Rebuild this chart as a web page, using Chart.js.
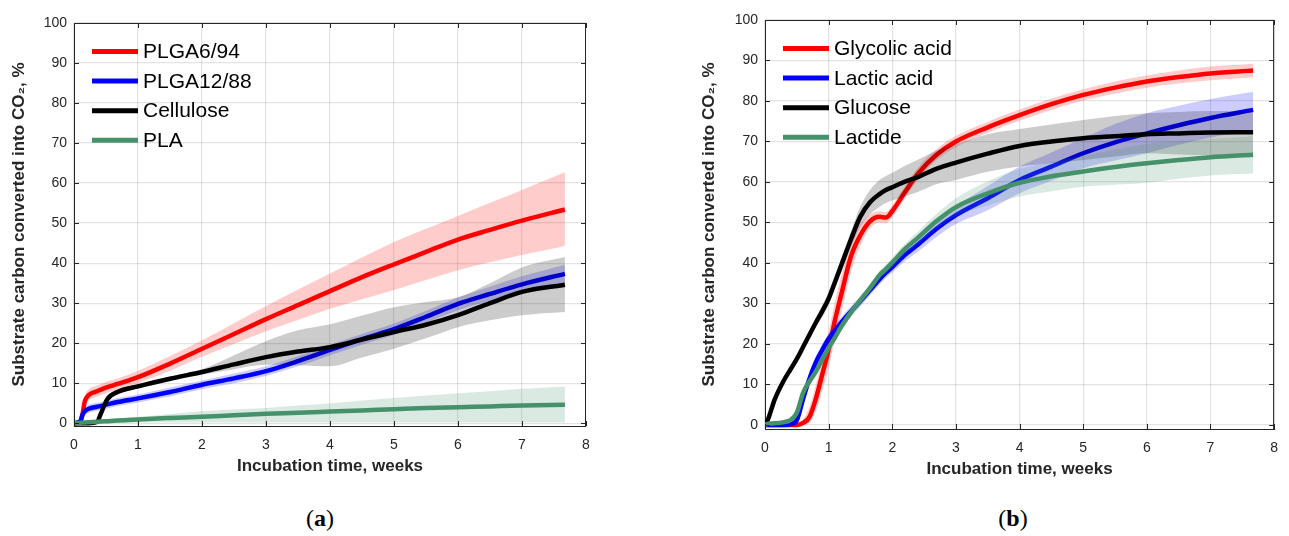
<!DOCTYPE html>
<html>
<head>
<meta charset="utf-8">
<script src="https://cdn.jsdelivr.net/npm/chart.js@4.4.1/dist/chart.umd.min.js"></script>
<style>
  body { margin: 0; background: #fff; width: 1289px; height: 536px; position: relative; overflow: hidden; }
  .wrap { position: absolute; top: 0; }
  #wrapA { left: 0; width: 640px; height: 490px; }
  #wrapB { left: 690px; width: 599px; height: 493px; }
  .cap { position: absolute; top: 505px; font-family: "Liberation Serif", "Times New Roman", serif; font-size: 24px; color: #000; transform: translateX(-50%); }
</style>
</head>
<body>
<div class="wrap" id="wrapA"><canvas id="chartA"></canvas></div>
<div class="wrap" id="wrapB"><canvas id="chartB"></canvas></div>
<div class="cap" style="left:320px">(<b>a</b>)</div>
<div class="cap" style="left:1013px">(<b>b</b>)</div>

<script>
// tick labels
const xTicks = [0, 1, 2, 3, 4, 5, 6, 7, 8];
const yTicks = [0, 10, 20, 30, 40, 50, 60, 70, 80, 90, 100];

// (a) polymers, weeks
const weeksA = [0, 0.1, 0.13, 0.17, 0.23, 0.36, 0.42, 0.52, 0.68, 1.0, 1.5, 2.0, 2.5, 3.0, 3.5, 4.0, 4.5, 5.0, 5.5, 6.0, 6.5, 7.0, 7.67];
const plga694Mean = [0, 0.3, 2.0, 5.5, 7.0, 8.0, 8.4, 9.0, 9.8, 11.5, 14.9, 18.6, 22.3, 26.0, 29.5, 33.0, 36.5, 39.7, 42.8, 45.9, 48.3, 50.6, 53.4];
const plga694Hi   = [0.5, 1.0, 3.2, 6.8, 8.4, 9.4, 9.8, 10.4, 11.2, 13.1, 16.8, 20.7, 25.0, 29.3, 33.4, 37.4, 41.4, 45.3, 48.6, 51.8, 55.1, 58.3, 62.7];
const plga694Lo   = [0, 0, 1.0, 4.3, 5.7, 6.6, 7.0, 7.6, 8.4, 10.0, 13.1, 16.6, 19.8, 23.0, 25.8, 28.6, 31.0, 33.3, 35.8, 38.2, 40.2, 42.0, 44.3];
const plga1288Mean = [0, 0.5, 2.0, 3.0, 3.6, 4.1, 4.3, 4.7, 5.3, 6.2, 7.8, 9.6, 11.2, 13.0, 15.5, 18.3, 21.0, 23.5, 26.6, 29.8, 32.3, 34.7, 37.3];
const plga1288Hi   = [0.3, 1.0, 3.0, 4.0, 4.6, 5.1, 5.3, 5.7, 6.3, 7.2, 8.9, 10.7, 12.4, 14.2, 16.8, 19.6, 22.3, 24.9, 28.1, 31.4, 34.1, 36.7, 39.6];
const plga1288Lo   = [0, 0, 1.0, 2.0, 2.6, 3.1, 3.3, 3.7, 4.3, 5.2, 6.7, 8.5, 10.0, 11.8, 14.2, 17.0, 19.6, 22.1, 25.1, 28.2, 30.6, 32.7, 35.0];
const celluloseMean = [0, 0, 0, 0, 0, 0.3, 2.4, 6.0, 7.8, 9.2, 11.1, 12.8, 14.7, 16.5, 17.9, 19.0, 20.9, 22.8, 24.6, 27.0, 30.0, 32.8, 34.6];
const celluloseHi   = [0.3, 0.3, 0.3, 0.3, 0.3, 0.7, 3.0, 6.6, 8.4, 9.8, 11.7, 13.5, 17.0, 20.5, 23.2, 24.7, 26.9, 29.0, 30.3, 31.5, 35.0, 38.9, 41.5];
const celluloseLo   = [0, 0, 0, 0, 0, 0, 1.8, 5.4, 7.2, 8.6, 10.5, 12.1, 13.5, 14.6, 14.5, 14.2, 16.4, 18.6, 21.2, 24.0, 25.7, 27.0, 27.8];
const plaMean = [0, 0.1, 0.15, 0.2, 0.25, 0.35, 0.4, 0.5, 0.65, 0.95, 1.3, 1.6, 2.0, 2.35, 2.6, 2.9, 3.2, 3.5, 3.8, 4.0, 4.2, 4.4, 4.6];
const plaHi   = [0.2, 0.4, 0.45, 0.5, 0.6, 0.8, 0.9, 1.0, 1.2, 1.6, 2.3, 3.0, 3.4, 3.8, 4.4, 5.0, 5.7, 6.3, 6.9, 7.5, 8.0, 8.6, 9.2];
const plaLo   = [0, 0, 0, 0, 0, 0, 0, 0, 0.1, 0.2, 0.2, 0.2, 0.2, 0.2, 0.2, 0.2, 0.2, 0.2, 0.2, 0.2, 0.2, 0.2, 0.2];

// (b) monomers, weeks
const weeksB = [0, 0.05, 0.15, 0.3, 0.4, 0.5, 0.6, 0.7, 0.8, 0.9, 1.0, 1.1, 1.2, 1.35, 1.5, 1.65, 1.8, 1.9, 2.0, 2.2, 2.4, 2.7, 3.0, 3.5, 4.0, 4.5, 5.0, 5.5, 6.0, 6.5, 7.0, 7.67];
const glycolicMean = [0, 0, 0, 0, 0, 0, 0.5, 2.0, 6.5, 12.5, 18.5, 25.9, 32.3, 41.6, 46.9, 50.3, 51.4, 51.2, 52.8, 57.5, 62.0, 66.8, 70.0, 73.5, 76.5, 79.2, 81.5, 83.3, 84.8, 85.9, 86.8, 87.5];
const glycolicHi   = [0.3, 0.3, 0.3, 0.3, 0.3, 0.5, 1.5, 4.5, 10.0, 16.5, 23.0, 30.5, 37.0, 45.5, 49.5, 52.0, 52.8, 52.6, 54.3, 59.0, 63.5, 68.2, 71.4, 74.9, 77.9, 80.6, 82.9, 84.8, 86.3, 87.5, 88.5, 89.2];
const glycolicLo   = [0, 0, 0, 0, 0, 0, 0, 0.5, 3.5, 8.5, 14.0, 21.3, 27.6, 37.7, 44.3, 48.6, 50.0, 49.8, 51.3, 56.0, 60.5, 65.4, 68.6, 72.1, 75.1, 77.8, 80.1, 81.8, 83.3, 84.3, 85.1, 85.8];
const lacticMean = [0, 0, 0, 0, 0.2, 1.2, 6.5, 11.5, 15.5, 18.5, 21.3, 23.3, 25.3, 28.0, 30.6, 33.3, 36.0, 37.6, 39.0, 42.0, 44.5, 48.5, 51.8, 56.0, 60.5, 63.8, 67.1, 69.8, 72.0, 74.0, 75.8, 77.8];
const lacticHi   = [0.3, 0.3, 0.3, 0.3, 0.8, 2.5, 8.0, 13.0, 17.0, 20.0, 22.6, 24.6, 26.6, 29.3, 31.9, 34.6, 37.3, 38.9, 40.4, 43.5, 46.2, 50.5, 54.0, 59.0, 63.8, 67.3, 70.8, 74.3, 77.0, 78.8, 80.5, 82.3];
const lacticLo   = [0, 0, 0, 0, 0, 0.3, 5.0, 10.0, 14.0, 17.0, 20.0, 22.0, 24.0, 26.7, 29.3, 32.0, 34.7, 36.3, 37.6, 40.5, 42.8, 46.5, 49.6, 53.0, 57.2, 60.3, 63.4, 65.3, 67.1, 69.2, 71.0, 72.8];
const glucoseMean = [0, 1.5, 6.2, 11.1, 13.7, 16.3, 19.3, 22.3, 25.3, 28.1, 31.2, 35.3, 39.5, 45.8, 51.5, 55.0, 57.0, 58.0, 58.7, 60.1, 61.2, 63.3, 64.8, 67.0, 68.9, 70.0, 70.8, 71.3, 71.8, 72.0, 72.2, 72.3];
const glucoseHi   = [0.5, 2.0, 6.8, 11.7, 14.3, 17.0, 20.0, 23.0, 26.3, 29.6, 32.8, 37.0, 41.2, 47.8, 54.0, 58.0, 60.5, 61.5, 62.3, 64.0, 65.5, 67.8, 69.3, 71.8, 73.1, 74.2, 75.3, 76.3, 77.0, 77.3, 77.5, 77.5];
const glucoseLo   = [0, 1.0, 5.6, 10.5, 13.1, 15.6, 18.6, 21.6, 24.3, 26.6, 29.6, 33.6, 37.8, 43.8, 49.0, 52.0, 53.8, 54.8, 55.4, 56.4, 57.5, 59.5, 60.5, 62.5, 63.8, 64.6, 65.4, 66.3, 67.1, 66.8, 66.6, 67.0];
const lactideMean = [0, 0.3, 0.4, 0.7, 1.2, 3.0, 8.0, 10.8, 13.2, 16.2, 19.0, 21.6, 24.3, 27.8, 30.8, 33.8, 37.0, 38.5, 40.1, 43.5, 46.2, 50.4, 53.8, 57.2, 59.8, 61.4, 62.6, 63.7, 64.6, 65.4, 66.1, 66.7];
const lactideHi   = [0.5, 0.8, 0.9, 1.2, 1.8, 3.8, 9.0, 11.8, 14.2, 17.2, 20.0, 22.6, 25.3, 28.8, 31.8, 34.8, 38.0, 39.6, 41.3, 44.8, 47.7, 52.2, 56.0, 60.2, 63.2, 64.9, 66.4, 68.0, 69.4, 70.0, 70.6, 71.3];
const lactideLo   = [0, 0, 0, 0.2, 0.6, 2.2, 7.0, 9.8, 12.2, 15.2, 18.0, 20.6, 23.3, 26.8, 29.8, 32.8, 36.0, 37.4, 38.9, 42.2, 44.7, 48.6, 51.6, 54.2, 56.4, 57.7, 58.8, 59.3, 59.8, 60.8, 61.6, 62.1];

const axisColor = "#262626";
const gridColor = "rgba(38,38,38,0.13)";
const RED = "#ff0000", BLUE = "#0000ff", BLACK = "#000000", GREEN = "#45916a";

Chart.defaults.font.family = "'Liberation Sans', Arial, sans-serif";
Chart.defaults.color = axisColor;

const pts = (t, v) => t.map((x, i) => ({ x: x, y: v[i] }));

function buildDatasets(t, series) {
  const out = [];
  series.forEach((s, k) => {
    const base = 100 - 3 * k;
    const hiIdx = out.length;
    out.push({ data: pts(t, s.hi), borderWidth: 0, pointRadius: 0, fill: false, order: base, cubicInterpolationMode: "monotone" });
    out.push({ data: pts(t, s.lo), borderWidth: 0, pointRadius: 0, fill: hiIdx, backgroundColor: s.band, order: base - 1, cubicInterpolationMode: "monotone" });
    out.push({ label: s.label, data: pts(t, s.mean), borderColor: s.color, borderWidth: 4.5, pointRadius: 0, fill: false, order: base - 2, cubicInterpolationMode: "monotone" });
  });
  return out;
}

// axes box with inward ticks on all four sides
const boxFrame = {
  id: "boxFrame",
  afterDraw(chart) {
    const { ctx, chartArea: a, scales: { x, y } } = chart;
    ctx.save();
    ctx.strokeStyle = axisColor;
    ctx.lineWidth = 1;
    ctx.beginPath();
    ctx.moveTo(a.left, a.top + 0.5); ctx.lineTo(a.right, a.top + 0.5);
    ctx.moveTo(a.right - 0.5, a.top); ctx.lineTo(a.right - 0.5, a.bottom);
    x.ticks.forEach(tk => {
      const px = Math.round(x.getPixelForValue(tk.value)) + 0.5;
      ctx.moveTo(px, a.bottom); ctx.lineTo(px, a.bottom - 5);
      ctx.moveTo(px, a.top); ctx.lineTo(px, a.top + 5);
    });
    y.ticks.forEach(tk => {
      const py = Math.round(y.getPixelForValue(tk.value)) + 0.5;
      ctx.moveTo(a.left, py); ctx.lineTo(a.left + 5, py);
      ctx.moveTo(a.right, py); ctx.lineTo(a.right - 5, py);
    });
    ctx.stroke();
    ctx.restore();
  }
};

// legend drawn inside the plot, top left
const cornerLegend = {
  id: "cornerLegend",
  afterDatasetsDraw(chart, args, opts) {
    const { ctx, chartArea: a } = chart;
    ctx.save();
    ctx.font = "21px 'Liberation Sans', Arial, sans-serif";
    ctx.textBaseline = "middle";
    ctx.fillStyle = "#000";
    opts.items.forEach((it, i) => {
      const y = a.top + 28.5 + i * 29.6;
      const x0 = a.left + 18;
      ctx.strokeStyle = it.color;
      ctx.lineWidth = 5;
      ctx.beginPath(); ctx.moveTo(x0, y); ctx.lineTo(x0 + 46, y); ctx.stroke();
      ctx.fillText(it.label, x0 + 51, y + 1);
    });
    ctx.restore();
  }
};

function makeChart(id, t, series, yMin, pad, yBoxW) {
  return new Chart(document.getElementById(id), {
    type: "line",
    data: { datasets: buildDatasets(t, series) },
    options: {
      responsive: true,
      maintainAspectRatio: false,
      animation: false,
      layout: { padding: pad },
      plugins: {
        legend: { display: false },
        tooltip: { enabled: false },
        cornerLegend: { items: series.map(s => ({ label: s.label, color: s.color })) }
      },
      scales: {
        x: {
          type: "linear", min: 0, max: 8,
          afterBuildTicks: ax => { ax.ticks = xTicks.map(v => ({ value: v })); },
          afterFit: ax => { ax.height = 64; },
          grid: { color: gridColor, lineWidth: 1.2, drawTicks: false },
          border: { display: true, color: axisColor, width: 1 },
          ticks: { color: axisColor, font: { size: 14 }, padding: 11, maxRotation: 0 },
          title: { display: true, text: "Incubation time, weeks", color: axisColor, font: { size: 17, weight: "bold" }, padding: { bottom: 13 } }
        },
        y: {
          type: "linear", min: yMin, max: 100,
          afterBuildTicks: ax => { ax.ticks = yTicks.map(v => ({ value: v })); },
          afterFit: ax => { ax.width = yBoxW; },
          grid: { color: gridColor, lineWidth: 1.2, drawTicks: false },
          border: { display: true, color: axisColor, width: 1 },
          ticks: { color: axisColor, font: { size: 14 }, padding: 7 },
          title: { display: true, text: "Substrate carbon converted into CO₂, %", color: axisColor, font: { size: 17, weight: "bold" }, padding: { top: 9 } }
        }
      }
    },
    plugins: [boxFrame, cornerLegend]
  });
}

makeChart("chartA", weeksA, [
  { label: "PLGA6/94",  color: RED,   band: "rgba(255,0,0,0.2)",     mean: plga694Mean,   hi: plga694Hi,   lo: plga694Lo },
  { label: "PLGA12/88", color: BLUE,  band: "rgba(0,0,255,0.2)",     mean: plga1288Mean,  hi: plga1288Hi,  lo: plga1288Lo },
  { label: "Cellulose", color: BLACK, band: "rgba(0,0,0,0.2)",       mean: celluloseMean, hi: celluloseHi, lo: celluloseLo },
  { label: "PLA",       color: GREEN, band: "rgba(69,145,106,0.2)",  mean: plaMean,       hi: plaHi,       lo: plaLo }
], -0.7, { left: 0, right: 54, top: 23, bottom: 0 }, 74);

makeChart("chartB", weeksB, [
  { label: "Glycolic acid", color: RED,   band: "rgba(255,0,0,0.2)",    mean: glycolicMean, hi: glycolicHi, lo: glycolicLo },
  { label: "Lactic acid",   color: BLUE,  band: "rgba(0,0,255,0.2)",    mean: lacticMean,   hi: lacticHi,   lo: lacticLo },
  { label: "Glucose",       color: BLACK, band: "rgba(0,0,0,0.2)",      mean: glucoseMean,  hi: glucoseHi,  lo: glucoseLo },
  { label: "Lactide",       color: GREEN, band: "rgba(69,145,106,0.2)", mean: lactideMean,  hi: lactideHi,  lo: lactideLo }
], -1, { left: 0, right: 4, top: 20, bottom: 0 }, 75);
</script>
</body>
</html>
